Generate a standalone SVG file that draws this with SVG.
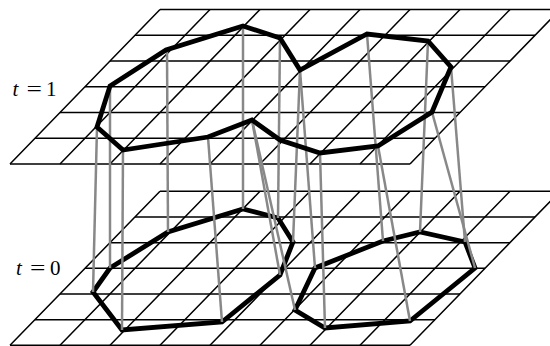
<svg xmlns="http://www.w3.org/2000/svg" width="550" height="346" viewBox="0 0 550 346">
<style>
.grid{stroke:#000;stroke-width:1.5;fill:none}
.curve{stroke:#000;stroke-width:4.8;fill:none;stroke-linejoin:miter;stroke-miterlimit:6}
.link{stroke:#888;stroke-width:2.5;fill:none}
.lbl{font-family:"Liberation Serif","Times New Roman",serif;font-size:21px;fill:#000}
</style>
<rect width="550" height="346" fill="#fff"/>
<g id="grid-t0" class="grid">
<path d="M160,191.3H560M135,217H535M110,242.7H510M85,268.3H485M60,294H460M35,319.7H435M10,345.3H410"/>
<path d="M160,191.3L10,345.3M210,191.3L60,345.3M260,191.3L110,345.3M310,191.3L160,345.3M360,191.3L210,345.3M410,191.3L260,345.3M460,191.3L310,345.3M510,191.3L360,345.3M560,191.3L410,345.3"/>
</g>
<g id="curve-t0-left"><polygon class="curve" points="243,209 278,218 293,242 280,275 222,322 122,330 93,292 110,268 168,232"/></g>
<g id="curve-t0-right"><polygon class="curve" points="383,241 420,232 465,242 475,268 410,321 325,328 295,310 315,268"/></g>
<g id="grid-t1" class="grid">
<path d="M160,9.5H560M135,35.25H535M110,61H510M85,86.75H485M60,112.5H460M35,138.25H435M10,164H410"/>
<path d="M160,9.5L10,164M210,9.5L60,164M260,9.5L110,164M310,9.5L160,164M360,9.5L210,164M410,9.5L260,164M460,9.5L310,164M510,9.5L360,164M560,9.5L410,164"/>
</g>
<g id="connectors" class="link">
<line x1="243" y1="26" x2="243" y2="209"/>
<line x1="280" y1="38" x2="278" y2="218"/>
<line x1="300" y1="70" x2="293" y2="242"/>
<line x1="300" y1="70" x2="315" y2="268"/>
<line x1="367" y1="34" x2="383" y2="241"/>
<line x1="428" y1="41" x2="420" y2="232"/>
<line x1="451" y1="67" x2="465" y2="242"/>
<line x1="432" y1="112" x2="475" y2="268"/>
<line x1="378" y1="146" x2="410" y2="321"/>
<line x1="320" y1="153" x2="325" y2="328"/>
<line x1="252" y1="120" x2="280" y2="275"/>
<line x1="252" y1="120" x2="295" y2="310"/>
<line x1="208" y1="137" x2="222" y2="322"/>
<line x1="123" y1="150" x2="122" y2="330"/>
<line x1="97" y1="127" x2="93" y2="292"/>
<line x1="110" y1="86" x2="110" y2="268"/>
<line x1="167" y1="50" x2="168" y2="232"/>
</g>
<g id="curve-t1"><polygon class="curve" points="243,26 280,38 300,70 367,34 428,41 451,67 432,112 378,146 320,153 280,140 252,120 208,137 123,150 97,127 110,86 166,50"/></g>
<g id="label-t1" class="lbl"><text x="12.5" y="96" font-style="italic">t</text><text transform="translate(26.5,96) scale(1.3,1)">=</text><text x="46" y="96">1</text></g>
<g id="label-t0" class="lbl"><text x="16" y="275" font-style="italic">t</text><text transform="translate(30,275) scale(1.3,1)">=</text><text x="50" y="275">0</text></g>
</svg>
